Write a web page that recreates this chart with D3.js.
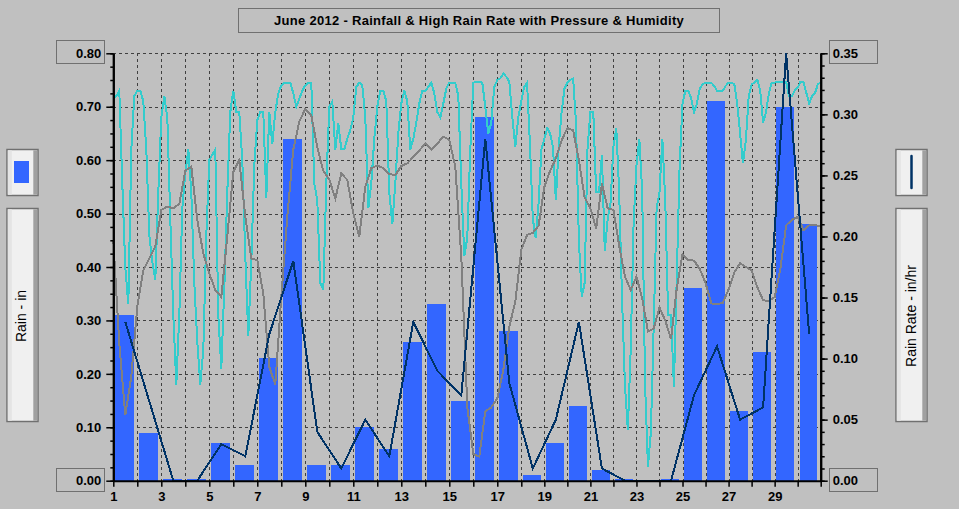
<!DOCTYPE html>
<html>
<head>
<meta charset="utf-8">
<script src="https://cdn.jsdelivr.net/npm/d3@7"></script>
<style>
  body { margin: 0; background: #c0c0c0; }
  svg { display: block; font-family: "Liberation Sans", Arial, sans-serif; }
</style>
</head>
<body>
<svg id="chart" width="959" height="509"></svg>
<script>
// -- data -- //
let title = "June 2012 - Rainfall & High Rain Rate with Pressure & Humidity";
let days = d3.range(1, 31);
let dayTicks = d3.range(1, 32);
let dayLabels = [1, 3, 5, 7, 9, 11, 13, 15, 17, 19, 21, 23, 25, 27, 29];
let rainTicks = [0, 0.1, 0.2, 0.3, 0.4, 0.5, 0.6, 0.7, 0.8];
let rateTicks = [0, 0.05, 0.1, 0.15, 0.2, 0.25, 0.3, 0.35];

// daily rain total, inches
let rain = [0.31, 0.09, 0.003, 0.003, 0.07, 0.03, 0.23, 0.64, 0.03, 0.03,
            0.10, 0.06, 0.26, 0.33, 0.15, 0.68, 0.28, 0.01, 0.07, 0.14,
            0.02, 0.003, 0, 0.003, 0.36, 0.71, 0.13, 0.24, 0.70, 0.48];

// daily high rain rate, in/hr
let rainRate = [0.13, 0.065, 0, 0, 0.03, 0.02, 0.12, 0.18, 0.04, 0.01,
                0.05, 0.02, 0.13, 0.09, 0.07, 0.28, 0.08, 0.01, 0.05, 0.13,
                0.01, 0, 0, 0, 0.07, 0.11, 0.05, 0.06, 0.35, 0.12];

// humidity, every 1/8 day from day 1 to 31, as drawn against the rain axis
let humidity = [
  0.716, 0.72, 0.73, 0.556, 0.40, 0.33, 0.62, 0.72,
  0.73, 0.73, 0.71, 0.62, 0.46, 0.41, 0.375, 0.54,
  0.68, 0.72, 0.68, 0.49, 0.31, 0.18, 0.31, 0.51,
  0.575, 0.62, 0.54, 0.37, 0.26, 0.18, 0.245, 0.46,
  0.60, 0.61, 0.62, 0.31, 0.21, 0.36, 0.54, 0.69,
  0.73, 0.69, 0.69, 0.60, 0.42, 0.27, 0.41, 0.59,
  0.675, 0.69, 0.69, 0.53, 0.69, 0.63, 0.69, 0.725,
  0.74, 0.745, 0.745, 0.745, 0.725, 0.70, 0.715, 0.73,
  0.74, 0.745, 0.745, 0.556, 0.525, 0.37, 0.357, 0.556,
  0.70, 0.71, 0.62, 0.67, 0.62, 0.62, 0.64, 0.656,
  0.68, 0.737, 0.745, 0.74, 0.68, 0.51, 0.556, 0.64,
  0.70, 0.73, 0.73, 0.71, 0.54, 0.48, 0.556, 0.65,
  0.706, 0.73, 0.71, 0.62, 0.64, 0.67, 0.706, 0.73,
  0.73, 0.737, 0.745, 0.725, 0.69, 0.68, 0.706, 0.734,
  0.745, 0.745, 0.745, 0.72, 0.556, 0.42, 0.455, 0.62,
  0.745, 0.747, 0.747, 0.745, 0.70, 0.65, 0.67, 0.737,
  0.75, 0.753, 0.762, 0.756, 0.747, 0.68, 0.625, 0.68,
  0.71, 0.737, 0.745, 0.63, 0.49, 0.455, 0.52, 0.62,
  0.64, 0.66, 0.65, 0.625, 0.525, 0.625, 0.69, 0.734,
  0.745, 0.75, 0.753, 0.67, 0.45, 0.344, 0.37, 0.62,
  0.69, 0.69, 0.54, 0.54, 0.61, 0.43, 0.49, 0.52,
  0.625, 0.66, 0.54, 0.34, 0.18, 0.095, 0.245, 0.48,
  0.59, 0.64, 0.54, 0.18, 0.026, 0.09, 0.29, 0.51,
  0.54, 0.64, 0.525, 0.31, 0.31, 0.176, 0.38, 0.59,
  0.706, 0.73, 0.73, 0.716, 0.69, 0.706, 0.734, 0.742,
  0.745, 0.745, 0.745, 0.739, 0.73, 0.73, 0.73, 0.739,
  0.745, 0.745, 0.742, 0.706, 0.65, 0.594, 0.637, 0.72,
  0.742, 0.745, 0.75, 0.73, 0.67, 0.69, 0.725, 0.745,
  0.745, 0.747, 0.747, 0.747, 0.747, 0.72, 0.72, 0.73,
  0.736, 0.747, 0.747, 0.726, 0.706, 0.72, 0.725, 0.742,
  0.745
];

// pressure, every 1/4 day from day 1 to 31, as drawn against the rain axis
let pressure = [
  0.45, 0.257, 0.123, 0.195,
  0.326, 0.394, 0.416, 0.438,
  0.507, 0.513, 0.51, 0.518,
  0.58, 0.588, 0.488, 0.425,
  0.388, 0.357, 0.344, 0.457,
  0.578, 0.60, 0.494, 0.416,
  0.413, 0.35, 0.213, 0.18,
  0.344, 0.494, 0.62, 0.672,
  0.696, 0.684, 0.624, 0.58,
  0.564, 0.528, 0.575, 0.563,
  0.50, 0.457, 0.55, 0.585,
  0.59, 0.585, 0.574, 0.572,
  0.589, 0.594, 0.606, 0.618,
  0.631, 0.62, 0.631, 0.644,
  0.638, 0.588, 0.42, 0.138,
  0.05, 0.045, 0.13, 0.137,
  0.154, 0.207, 0.288, 0.335,
  0.432, 0.46, 0.464, 0.477,
  0.55, 0.58, 0.603, 0.637,
  0.66, 0.656, 0.60, 0.53,
  0.51, 0.472, 0.556, 0.51,
  0.507, 0.44, 0.382, 0.357,
  0.382, 0.341, 0.279, 0.285,
  0.324, 0.30, 0.265, 0.36,
  0.424, 0.413, 0.412, 0.396,
  0.37, 0.332, 0.33, 0.333,
  0.358, 0.39, 0.407, 0.40,
  0.394, 0.362, 0.338, 0.336,
  0.344, 0.397, 0.478, 0.488,
  0.494, 0.469, 0.478, 0.478,
  0.477
];

let svg = d3.select("#chart");

// -- scales (day spacing is a little narrower after the 18th) -- //
let xScale = d3.scaleLinear().domain([1, 18, 31]).range([113.3, 521.3, 820.7]);
let yRain = d3.scaleLinear().domain([0, 0.8]).range([480.7, 53.3]);
let yRate = d3.scaleLinear().domain([0, 0.35]).range([480.7, 53.3]);
let crisp = v => Math.round(v) + 0.5;

// -- title box -- //
svg.append("rect")
    .attr("x", 238.5).attr("y", 8.5)
    .attr("width", 481).attr("height", 24)
    .style("fill", "none").style("stroke", "#707070");
svg.append("text")
    .attr("x", 479).attr("y", 25)
    .attr("text-anchor", "middle")
    .style("font-weight", "bold").style("font-size", "13px")
    .style("letter-spacing", "0.3px")
    .text(title);

// -- dashed grid -- //
let grid = svg.append("g")
    .style("stroke", "#404040")
    .style("stroke-dasharray", "3,3")
    .style("shape-rendering", "crispEdges");
grid.selectAll(".vgrid")
    .data(dayTicks.slice(1, -1))
    .enter()
    .append("line")
    .attr("class", "vgrid")
    .attr("x1", d => crisp(xScale(d))).attr("x2", d => crisp(xScale(d)))
    .attr("y1", yRain(0.8)).attr("y2", yRain(0));
grid.selectAll(".hgrid")
    .data(rainTicks.slice(1))
    .enter()
    .append("line")
    .attr("class", "hgrid")
    .attr("x1", xScale(1)).attr("x2", xScale(31))
    .attr("y1", d => crisp(yRain(d))).attr("y2", d => crisp(yRain(d)));

// -- rain bars -- //
svg.selectAll(".bar")
    .data(days)
    .enter()
    .append("rect")
    .attr("class", "bar")
    .attr("x", (d) => {
        let w = xScale(d + 1) - xScale(d);
        return xScale(d) + 0.08 * w;
    })
    .attr("width", d => 0.78 * (xScale(d + 1) - xScale(d)))
    .attr("y", (d, i) => yRain(rain[i]))
    .attr("height", (d, i) => yRain(0) - yRain(rain[i]))
    .style("fill", "#3366ff")
    .style("shape-rendering", "crispEdges");

// -- humidity and pressure traces -- //
let humLine = d3.line()
    .x((d, i) => xScale(1 + i / 8))
    .y(d => yRain(d));
let presLine = d3.line()
    .x((d, i) => xScale(1 + i / 4))
    .y(d => yRain(d));
svg.append("path")
    .attr("d", humLine(humidity))
    .style("fill", "none").style("stroke", "#33cccc").style("stroke-width", 2)
    .style("shape-rendering", "crispEdges");
svg.append("path")
    .attr("d", presLine(pressure))
    .style("fill", "none").style("stroke", "#808080").style("stroke-width", 2)
    .style("shape-rendering", "crispEdges");

// -- high rain rate line, one point per day -- //
let rateLine = d3.line()
    .x((d, i) => xScale(days[i] + 0.5))
    .y(d => yRate(d));
svg.append("path")
    .attr("d", rateLine(rainRate))
    .style("fill", "none").style("stroke", "#003366").style("stroke-width", 2)
    .style("shape-rendering", "crispEdges");

// -- boxes round the end labels -- //
let endBoxes = [[56.5, 0.8], [56.5, 0], [829.5, 0.8], [829.5, 0]];
svg.selectAll(".endBox")
    .data(endBoxes)
    .enter()
    .append("rect")
    .attr("class", "endBox")
    .attr("x", d => d[0])
    .attr("y", d => Math.round(yRain(d[1])) - 12.5)
    .attr("width", 48).attr("height", 23)
    .style("fill", "none").style("stroke", "#707070");

// -- draw the axes -- //
let styleAxis = (g) => {
    g.selectAll("path.domain").style("stroke", "#000").style("stroke-width", 2);
    g.selectAll(".tick line").style("stroke", "#000").style("stroke-width", 1.5);
    g.selectAll("text")
        .style("font-family", "'Liberation Sans', Arial, sans-serif")
        .style("font-size", "13px").style("font-weight", "bold").style("fill", "#000");
};

let leftMinor = d3.range(0, 0.8001, 0.025);
svg.append("g")
    .attr("transform", `translate(${xScale(1)}, 0)`)
    .call(d3.axisLeft(yRain).tickValues(leftMinor).tickSize(3).tickSizeOuter(0).tickFormat(""))
    .call(styleAxis);
svg.append("g")
    .attr("transform", `translate(${xScale(1)}, 0)`)
    .call(d3.axisLeft(yRain).tickValues(rainTicks).tickSize(7).tickSizeOuter(0)
        .tickPadding(5).tickFormat(d3.format(".2f")))
    .call(styleAxis);

let rightMinor = d3.range(0, 0.3501, 0.01);
svg.append("g")
    .attr("transform", `translate(${xScale(31)}, 0)`)
    .call(d3.axisRight(yRate).tickValues(rightMinor).tickSize(4).tickSizeOuter(0).tickFormat(""))
    .call(styleAxis);
svg.append("g")
    .attr("transform", `translate(${xScale(31)}, 0)`)
    .call(d3.axisRight(yRate).tickValues(rateTicks).tickSize(7).tickSizeOuter(0)
        .tickPadding(5).tickFormat(d3.format(".2f")))
    .call(styleAxis);

svg.append("g")
    .attr("transform", `translate(0, ${yRain(0)})`)
    .call(d3.axisBottom(xScale).tickValues(dayTicks).tickSize(6).tickSizeOuter(0)
        .tickPadding(5).tickFormat(d => dayLabels.includes(d) ? d : ""))
    .call(styleAxis);

// -- legend panels -- //
let panel = (x, y, h) => {
    svg.append("rect")
        .attr("x", x).attr("y", y).attr("width", 31).attr("height", h)
        .style("fill", "#f0f0f0").style("stroke", "#707070").style("stroke-width", 1.5);
    svg.append("rect")
        .attr("x", x + 0.8).attr("y", y + 0.8).attr("width", 4).attr("height", h - 1.6)
        .style("fill", "#e4e4e4");
    svg.append("rect")
        .attr("x", x + 26.3).attr("y", y + 0.8).attr("width", 4).attr("height", h - 1.6)
        .style("fill", "#a0a0a0");
};
panel(7, 149.5, 46);
panel(7, 208.5, 213);
panel(896, 149.5, 46);
panel(896, 208.5, 213);

svg.append("rect")
    .attr("x", 14).attr("y", 161).attr("width", 15).attr("height", 22)
    .style("fill", "#3366ff");
svg.append("line")
    .attr("x1", 911.5).attr("x2", 911.5).attr("y1", 156).attr("y2", 188)
    .style("stroke", "#003366").style("stroke-width", 2.5).style("stroke-linecap", "round");

let sideLabel = (x, y, txt) => {
    svg.append("text")
        .attr("transform", `translate(${x}, ${y}) rotate(-90)`)
        .attr("text-anchor", "middle")
        .attr("dy", "0.35em")
        .style("font-size", "14px")
        .text(txt);
};
sideLabel(21.5, 316, "Rain - in");
sideLabel(911, 316, "Rain Rate - in/hr");
</script>
</body>
</html>
